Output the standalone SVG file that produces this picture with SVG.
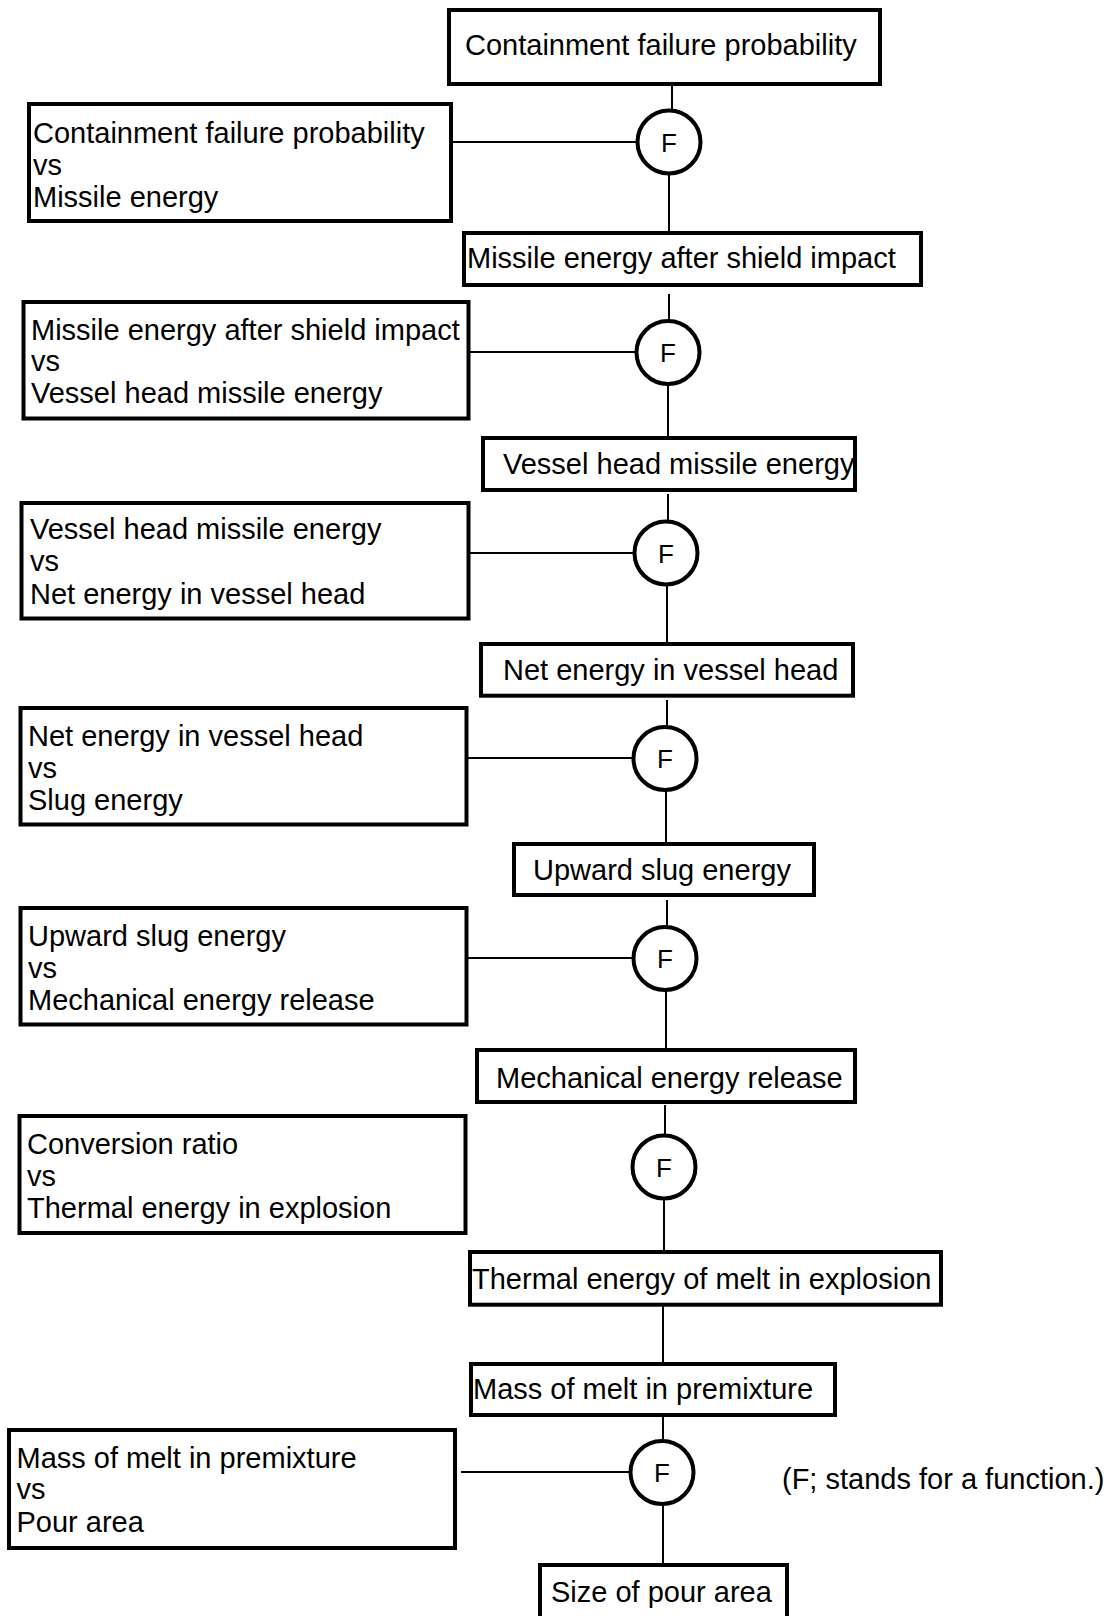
<svg xmlns="http://www.w3.org/2000/svg" width="1109" height="1616" viewBox="0 0 1109 1616">
<style>
.box{fill:#fff;stroke:#000;stroke-width:4}
.fn{fill:#fff;stroke:#000;stroke-width:4}
.t{font-family:"Liberation Sans",Arial,sans-serif;font-size:29px;fill:#000}
.f{font-family:"Liberation Sans",Arial,sans-serif;font-size:26px;fill:#000;text-anchor:middle}
.c{stroke:#000;stroke-width:2;fill:none}
</style>
<rect width="1109" height="1616" fill="#fff"/>
<g id="connectors">
<line class="c" x1="672" y1="86" x2="672" y2="110"/>
<line class="c" x1="669" y1="174" x2="669" y2="231"/>
<line class="c" x1="452" y1="142" x2="637" y2="142"/>
<line class="c" x1="669" y1="294" x2="669" y2="320"/>
<line class="c" x1="668" y1="385" x2="668" y2="443"/>
<line class="c" x1="470" y1="352" x2="636" y2="352"/>
<line class="c" x1="668" y1="494" x2="668" y2="521"/>
<line class="c" x1="667" y1="586" x2="667" y2="642"/>
<line class="c" x1="470" y1="553" x2="634" y2="553"/>
<line class="c" x1="667" y1="700" x2="667" y2="726"/>
<line class="c" x1="666" y1="791" x2="666" y2="842"/>
<line class="c" x1="468" y1="758" x2="633" y2="758"/>
<line class="c" x1="667" y1="900" x2="667" y2="926"/>
<line class="c" x1="666" y1="991" x2="666" y2="1048"/>
<line class="c" x1="468" y1="958" x2="633" y2="958"/>
<line class="c" x1="665" y1="1105" x2="665" y2="1134"/>
<line class="c" x1="664" y1="1200" x2="664" y2="1250"/>
<line class="c" x1="663" y1="1306" x2="663" y2="1362"/>
<line class="c" x1="663" y1="1417" x2="663" y2="1439"/>
<line class="c" x1="663" y1="1505" x2="663" y2="1563"/>
<line class="c" x1="461" y1="1472" x2="630" y2="1472"/>
</g>
<g id="n1"><rect class="box" x="449" y="10" width="431" height="74"/><text class="t" x="465" y="55">Containment failure probability</text></g>
<g id="l1"><rect class="box" x="29" y="104" width="422" height="117"/><text class="t" x="33" y="143">Containment failure probability</text><text class="t" x="33" y="175">vs</text><text class="t" x="33" y="207">Missile energy</text></g>
<g id="f1"><circle class="fn" cx="669" cy="142" r="31.5"/><text class="f" x="669" y="151.5">F</text></g>
<g id="n2"><rect class="box" x="464" y="233" width="457" height="52"/><text class="t" x="467" y="268">Missile energy after shield impact</text></g>
<g id="l2"><rect class="box" x="23.5" y="302" width="445" height="116.5"/><text class="t" x="31" y="340">Missile energy after shield impact</text><text class="t" x="31" y="371">vs</text><text class="t" x="31" y="403">Vessel head missile energy</text></g>
<g id="f2"><circle class="fn" cx="668" cy="352.5" r="31.5"/><text class="f" x="668" y="362">F</text></g>
<g id="n3"><rect class="box" x="483" y="438" width="372" height="52"/><text class="t" x="503" y="473.5">Vessel head missile energy</text></g>
<g id="l3"><rect class="box" x="21.5" y="503" width="447" height="115.5"/><text class="t" x="30" y="539">Vessel head missile energy</text><text class="t" x="30" y="571">vs</text><text class="t" x="30" y="603.5">Net energy in vessel head</text></g>
<g id="f3"><circle class="fn" cx="666" cy="553" r="31.5"/><text class="f" x="666" y="562.5">F</text></g>
<g id="n4"><rect class="box" x="481" y="644" width="372" height="51.7"/><text class="t" x="503" y="680">Net energy in vessel head</text></g>
<g id="l4"><rect class="box" x="20.5" y="708" width="446" height="116.5"/><text class="t" x="28" y="746">Net energy in vessel head</text><text class="t" x="28" y="777.5">vs</text><text class="t" x="28" y="809.5">Slug energy</text></g>
<g id="f4"><circle class="fn" cx="665" cy="758.5" r="31.5"/><text class="f" x="665" y="768">F</text></g>
<g id="n5"><rect class="box" x="514" y="844" width="300" height="51"/><text class="t" x="533" y="880">Upward slug energy</text></g>
<g id="l5"><rect class="box" x="20.5" y="908" width="446" height="116.5"/><text class="t" x="28" y="946">Upward slug energy</text><text class="t" x="28" y="977.5">vs</text><text class="t" x="28" y="1009.5">Mechanical energy release</text></g>
<g id="f5"><circle class="fn" cx="665" cy="958.5" r="31.5"/><text class="f" x="665" y="968">F</text></g>
<g id="n6"><rect class="box" x="477" y="1050" width="378" height="52"/><text class="t" x="496" y="1087.5">Mechanical energy release</text></g>
<g id="l6"><rect class="box" x="19.5" y="1116" width="446" height="117"/><text class="t" x="27" y="1154">Conversion ratio</text><text class="t" x="27" y="1185.5">vs</text><text class="t" x="27" y="1217.5">Thermal energy in explosion</text></g>
<g id="f6"><circle class="fn" cx="664" cy="1167" r="31.5"/><text class="f" x="664" y="1176.5">F</text></g>
<g id="n7"><rect class="box" x="470" y="1252" width="471" height="52.7"/><text class="t" x="472" y="1289">Thermal energy of melt in explosion</text></g>
<g id="n8"><rect class="box" x="471" y="1364" width="364" height="51"/><text class="t" x="473" y="1399">Mass of melt in premixture</text></g>
<g id="l8"><rect class="box" x="9" y="1430" width="446" height="118"/><text class="t" x="16.5" y="1467.5">Mass of melt in premixture</text><text class="t" x="16.5" y="1499">vs</text><text class="t" x="16.5" y="1532">Pour area</text></g>
<g id="f8"><circle class="fn" cx="662" cy="1472.5" r="31.5"/><text class="f" x="662" y="1482">F</text></g>
<g id="n9"><rect class="box" x="540" y="1565" width="247" height="70"/><text class="t" x="551" y="1601.5">Size of pour area</text></g>
<g id="note"><text class="t" x="782" y="1489">(F; stands for a function.)</text></g>
</svg>
